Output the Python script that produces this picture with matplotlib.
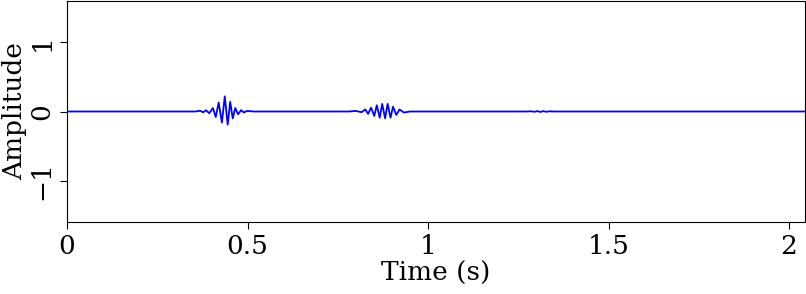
import numpy as np
import matplotlib
matplotlib.use("Agg")
import matplotlib.pyplot as plt

# trace: (time in s, amplitude) at wiggle peaks/troughs
t1 = [0.355, 0.369, 0.377, 0.385, 0.394, 0.404, 0.412, 0.420, 0.429, 0.437,
      0.445, 0.452, 0.459, 0.466, 0.474, 0.482, 0.490, 0.498, 0.517]
a1 = [0.0, 0.01, -0.012, 0.018, -0.025, 0.05, -0.08, 0.13, -0.16, 0.22,
      -0.19, 0.14, -0.10, 0.05, -0.04, 0.02, -0.015, 0.008, 0.0]

t2 = [0.780, 0.800, 0.816, 0.826, 0.834, 0.842, 0.851, 0.858, 0.866, 0.873,
      0.881, 0.888, 0.896, 0.903, 0.912, 0.921, 0.933, 0.950]
a2 = [0.0, 0.008, -0.01, 0.03, -0.035, 0.055, -0.065, 0.09, -0.09, 0.11,
      -0.10, 0.11, -0.09, 0.07, -0.05, 0.03, -0.015, 0.0]

t3 = [1.270, 1.285, 1.295, 1.303, 1.311, 1.319, 1.327, 1.337, 1.350]
a3 = [0.0, 0.003, -0.004, 0.006, -0.007, 0.006, -0.004, 0.003, 0.0]

t_ends = [0.0, 2.044]

t = [t_ends[0]] + t1 + t2 + t3 + [t_ends[1]]
a = [0.0] + a1 + a2 + a3 + [0.0]

plt.rcParams["font.family"] = ["DejaVu Serif"]
fig = plt.figure(figsize=(8.06, 2.94), dpi=100)
ax = fig.add_axes([67 / 806, 72 / 294, 738 / 806, 221 / 294])

ax.plot(t, a, color="#0000ff", lw=1.3)

ax.set_xlim(0, 2.044)
ax.set_ylim(-1.6, 1.6)
ax.set_xticks([0, 0.5, 1, 1.5, 2])
ax.set_xticklabels(["0", "0.5", "1", "1.5", "2"])
ax.set_yticks([-1, 0, 1])
ax.set_yticklabels(["\u22121", "0", "1"], rotation=90, va="center")
ax.tick_params(direction="out", length=5, labelsize=19, pad=4,
               top=False, right=False)
ax.set_xlabel("Time (s)", fontsize=19, labelpad=1)
ax.set_ylabel("Amplitude", fontsize=19, labelpad=2)

fig.savefig("out.png", dpi=100)
